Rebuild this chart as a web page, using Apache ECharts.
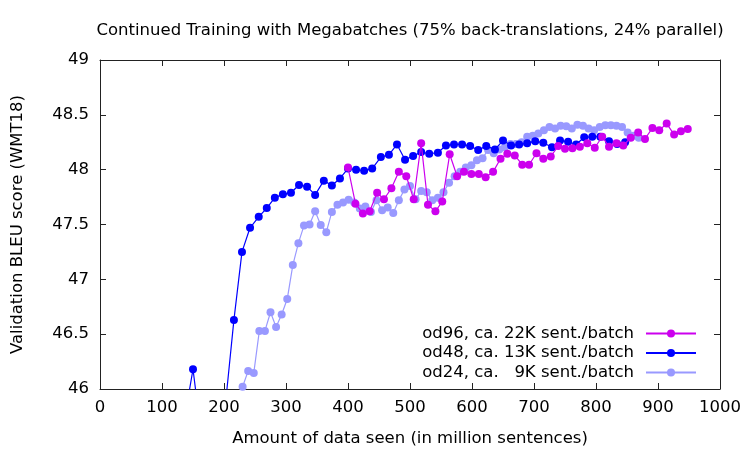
<!DOCTYPE html>
<html>
<head>
<meta charset="utf-8">
<script src="https://cdn.jsdelivr.net/npm/echarts@6/dist/echarts.min.js"></script>
<style>
  html, body { margin: 0; padding: 0; background: #fff; }
  #chart { width: 750px; height: 450px; }
</style>
</head>
<body>
<div id="chart"></div>
<script>
// od96, ca. 22K sent./batch
const od96X = [400, 412, 424, 435, 447, 458, 470, 482, 494, 506, 518, 529, 541, 552, 564, 576,
  587, 599, 611, 622, 634, 646, 657, 669, 681, 692, 704, 715, 727, 739, 750, 762,
  774, 786, 798, 810, 821, 833, 844, 856, 868, 879, 891, 902, 914, 926, 937, 948]
const od96Y = [48.02, 47.69, 47.60, 47.62, 47.79, 47.73, 47.83, 47.98, 47.94, 47.73, 48.24, 47.68,
  47.62, 47.71, 48.14, 47.94, 47.98, 47.96, 47.96, 47.93, 47.98, 48.10, 48.145, 48.13,
  48.045, 48.045, 48.15, 48.10, 48.12, 48.215, 48.19, 48.195, 48.21, 48.24, 48.20, 48.30,
  48.21, 48.24, 48.22, 48.29, 48.34, 48.28, 48.38, 48.36, 48.42, 48.32, 48.35, 48.37]

// od48, ca. 13K sent./batch (first points dip below the axis minimum)
const od48X = [137, 150, 163, 177, 190, 203, 216, 229, 242, 256, 269, 282, 295, 308, 321, 334,
  347, 361, 374, 387, 400, 413, 426, 439, 453, 466, 479, 492, 505, 518, 531, 545,
  558, 571, 584, 597, 610, 623, 637, 650, 663, 676, 689, 702, 715, 729, 742, 755,
  768, 781, 794, 807, 821, 834, 847]
const od48Y = [45.75, 46.18, 45.6, 45.5, 45.6, 45.9, 46.63, 47.25, 47.47, 47.57, 47.65, 47.745,
  47.775, 47.79, 47.86, 47.845, 47.77, 47.90, 47.855, 47.92, 48.01, 48.00, 47.99, 48.01,
  48.115, 48.135, 48.23, 48.09, 48.125, 48.16, 48.145, 48.155, 48.22, 48.23, 48.23, 48.215,
  48.18, 48.215, 48.185, 48.265, 48.22, 48.23, 48.24, 48.26, 48.245, 48.205, 48.265, 48.255,
  48.23, 48.295, 48.30, 48.30, 48.26, 48.235, 48.25]

// od24, ca. 9K sent./batch
const od24X = [230, 239, 248, 257, 266, 275, 284, 293, 302, 311, 320, 329, 338, 347, 356, 365,
  374, 383, 392, 401, 410, 419, 428, 437, 446, 455, 464, 473, 482, 491, 500, 509,
  518, 527, 536, 545, 554, 563, 572, 581, 590, 599, 608, 617, 626, 635, 644, 653,
  662, 671, 680, 689, 698, 707, 716, 725, 734, 743, 752, 761, 770, 779, 788, 797,
  806, 815, 824, 833, 842, 851, 860, 869]
const od24Y = [46.02, 46.165, 46.145, 46.53, 46.53, 46.70, 46.565, 46.68, 46.82, 47.13, 47.33, 47.49,
  47.50, 47.62, 47.495, 47.43, 47.615, 47.68, 47.70, 47.725, 47.70, 47.645, 47.665, 47.615,
  47.72, 47.63, 47.655, 47.605, 47.72, 47.82, 47.85, 47.73, 47.805, 47.795, 47.72, 47.745,
  47.795, 47.88, 47.94, 47.98, 48.02, 48.04, 48.085, 48.105, 48.18, 48.15, 48.185, 48.205,
  48.235, 48.235, 48.25, 48.30, 48.31, 48.33, 48.36, 48.39, 48.375, 48.40, 48.395, 48.375,
  48.41, 48.40, 48.375, 48.36, 48.39, 48.405, 48.405, 48.40, 48.39, 48.34, 48.31, 48.29]

const seriesNames = ['od96, ca. 22K sent./batch', 'od48, ca. 13K sent./batch', 'od24, ca.   9K sent./batch']
const seriesColors = ['#cc00ee', '#0000ff', '#9999ff']

const zip = (xs, ys) => xs.map((x, i) => [x, ys[i]])

const font = 'DejaVu Sans'
const fontSize = 16.5
const axisColor = '#222'

const chart = echarts.init(document.getElementById('chart'))

const tickAxis = (extra) => Object.assign({
  axisLine: { show: true, onZero: false, lineStyle: { color: axisColor, width: 1 } },
  axisTick: { show: true, inside: true, length: 6, lineStyle: { color: axisColor } },
  splitLine: { show: false },
  axisLabel: { show: false }
}, extra)

const makeLine = (name, data, color, z) => ({
  name,
  type: 'line',
  data,
  z,
  symbol: 'circle',
  symbolSize: 8,
  showSymbol: true,
  clip: true,
  color,
  itemStyle: { color },
  lineStyle: { color, width: 1.2 },
  emphasis: { disabled: true }
})

chart.setOption({
  animation: false,
  backgroundColor: '#fff',
  textStyle: { fontFamily: font, color: '#000' },
  graphic: [{
    type: 'text',
    x: 410,
    y: 22,
    style: {
      text: 'Continued Training with Megabatches (75% back-translations, 24% parallel)',
      font: fontSize + 'px "DejaVu Sans"',
      fill: '#000',
      align: 'center',
      verticalAlign: 'top'
    }
  }],
  grid: { left: 100, right: 30, top: 60, bottom: 61, containLabel: false, outerBoundsMode: 'none' },
  legend: {
    orient: 'vertical',
    right: 53,
    top: 324,
    padding: 0,
    align: 'right',
    itemWidth: 50,
    itemHeight: 10,
    itemGap: 0.5,
    data: seriesNames,
    textStyle: { fontFamily: font, fontSize: fontSize, color: '#000', lineHeight: 19, padding: [0, 7, 0, 0] },
    selectedMode: false
  },
  xAxis: [
    tickAxis({
      type: 'value',
      min: 0,
      max: 1000,
      interval: 100,
      position: 'bottom',
      name: 'Amount of data seen (in million sentences)',
      nameLocation: 'middle',
      nameGap: 41,
      nameTextStyle: { fontFamily: font, fontSize: fontSize, color: '#000' },
      axisLabel: { show: true, margin: 10, fontFamily: font, fontSize: fontSize, color: '#000', formatter: (v) => String(v) }
    }),
    tickAxis({ type: 'value', min: 0, max: 1000, interval: 100, position: 'top' })
  ],
  yAxis: [
    tickAxis({
      type: 'value',
      min: 46,
      max: 49,
      interval: 0.5,
      position: 'left',
      name: 'Validation BLEU score (WMT18)',
      nameLocation: 'middle',
      nameGap: 74,
      nameTextStyle: { fontFamily: font, fontSize: fontSize, color: '#000' },
      axisLabel: { show: true, margin: 11, fontFamily: font, fontSize: fontSize, color: '#000' }
    }),
    tickAxis({ type: 'value', min: 46, max: 49, interval: 0.5, position: 'right' })
  ],
  series: [
    makeLine(seriesNames[0], zip(od96X, od96Y), seriesColors[0], 5),
    makeLine(seriesNames[1], zip(od48X, od48Y), seriesColors[1], 4),
    makeLine(seriesNames[2], zip(od24X, od24Y), seriesColors[2], 3)
  ]
})
</script>
</body>
</html>
